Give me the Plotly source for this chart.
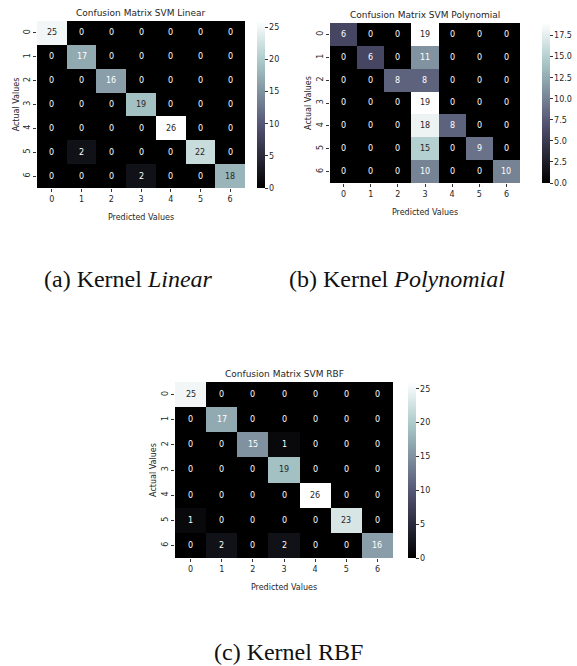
import plotly.graph_objects as go

labels = ["0", "1", "2", "3", "4", "5", "6"]

linear = [[25, 0, 0, 0, 0, 0, 0],
          [0, 17, 0, 0, 0, 0, 0],
          [0, 0, 16, 0, 0, 0, 0],
          [0, 0, 0, 19, 0, 0, 0],
          [0, 0, 0, 0, 26, 0, 0],
          [0, 2, 0, 0, 0, 22, 0],
          [0, 0, 0, 2, 0, 0, 18]]

poly = [[6, 0, 0, 19, 0, 0, 0],
        [0, 6, 0, 11, 0, 0, 0],
        [0, 0, 8, 8, 0, 0, 0],
        [0, 0, 0, 19, 0, 0, 0],
        [0, 0, 0, 18, 8, 0, 0],
        [0, 0, 0, 15, 0, 9, 0],
        [0, 0, 0, 10, 0, 0, 10]]

rbf = [[25, 0, 0, 0, 0, 0, 0],
       [0, 17, 0, 0, 0, 0, 0],
       [0, 0, 15, 1, 0, 0, 0],
       [0, 0, 0, 19, 0, 0, 0],
       [0, 0, 0, 0, 26, 0, 0],
       [1, 0, 0, 0, 0, 23, 0],
       [0, 2, 0, 2, 0, 0, 16]]

titles = ["Confusion Matrix SVM Linear", "Confusion Matrix SVM Polynomial", "Confusion Matrix SVM RBF"]
captions = ["(a) Kernel <i>Linear</i>", "(b) Kernel <i>Polynomial</i>", "(c) Kernel RBF"]

W, H = 577, 666

BONE_STOPS = [(0.0, (0, 0, 0)), (0.365079, (81, 81, 113)),
              (0.746032, (166, 198, 198)), (1.0, (255, 255, 255))]
bone = [[s, "rgb(%d,%d,%d)" % c] for s, c in BONE_STOPS]


def bone_rgb(t):
    for (s0, c0), (s1, c1) in zip(BONE_STOPS[:-1], BONE_STOPS[1:]):
        if t <= s1:
            f = (t - s0) / (s1 - s0) if s1 > s0 else 0
            return [c0[i] + f * (c1[i] - c0[i]) for i in range(3)]
    return list(BONE_STOPS[-1][1])


def lum(rgb):
    out = []
    for v in rgb:
        v = v / 255
        out.append(v / 12.92 if v <= 0.03928 else ((v + 0.055) / 1.055) ** 2.4)
    return 0.2126 * out[0] + 0.7152 * out[1] + 0.0722 * out[2]


panels = [
    dict(z=linear, box=(37, 245, 21, 188), cbx=257, dtick=5, fmt="d", ystand=1),
    dict(z=poly, box=(330, 520, 23, 183), cbx=542, dtick=2.5, fmt=".1f", ystand=2),
    dict(z=rbf, box=(175, 393, 382, 558), cbx=408, dtick=5, fmt="d", ystand=2),
]
caption_pos = [(128, 279), (397, 279), (288, 652)]

fig = go.Figure()
annotations = []
tickfont = dict(family="DejaVu Sans", size=8, color="#262626")

for i, p in enumerate(panels):
    n = "" if i == 0 else str(i + 1)
    L, R, T, B = p["box"]
    z = p["z"]
    zmax = max(max(r) for r in z)
    zmin = min(min(r) for r in z)
    fig.add_trace(go.Heatmap(
        z=z, x=labels, y=labels, xaxis="x" + n, yaxis="y" + n,
        colorscale=bone, zmin=zmin, zmax=zmax,
        colorbar=dict(
            x=p["cbx"] / W, xanchor="left", xpad=0, ypad=0,
            y=1 - T / H, yanchor="top", lenmode="pixels", len=B - T,
            thickness=8, thicknessmode="pixels", outlinewidth=0,
            ticks="outside", ticklen=3, tickwidth=1, tickcolor="#333",
            tick0=0, dtick=p["dtick"], tickformat=p["fmt"],
            tickfont=tickfont),
        hoverinfo="skip",
    ))
    for r, row in enumerate(z):
        for c, v in enumerate(row):
            t = (v - zmin) / (zmax - zmin)
            col = "#262626" if lum(bone_rgb(t)) > 0.408 else "#ffffff"
            annotations.append(dict(
                x=labels[c], y=labels[r], xref="x" + n, yref="y" + n,
                text=str(v), showarrow=False,
                font=dict(family="DejaVu Sans", size=8, color=col)))
    fig.layout["xaxis" + n] = dict(
        domain=[L / W, R / W], anchor="y" + n, type="category",
        showgrid=False, zeroline=False, showline=False, automargin=False,
        ticks="outside", ticklen=3, tickcolor="#333", tickfont=tickfont,
        title=dict(text="Predicted Values", standoff=11,
                   font=dict(family="DejaVu Sans", size=8, color="#262626")))
    fig.layout["yaxis" + n] = dict(
        domain=[1 - B / H, 1 - T / H], anchor="x" + n, type="category",
        autorange="reversed", showgrid=False, zeroline=False, showline=False,
        automargin=False,
        ticks="outside", ticklen=3, tickcolor="#333", tickfont=tickfont,
        tickangle=-90,
        title=dict(text="Actual Values", standoff=p["ystand"],
                   font=dict(family="DejaVu Sans", size=8, color="#262626")))
    annotations.append(dict(
        x=(L + R) / 2 / W, y=1 - (T - 8) / H, xref="paper", yref="paper",
        text=titles[i], showarrow=False, xanchor="center", yanchor="middle",
        font=dict(family="DejaVu Sans", size=9, color="#262626")))
    cx, cy = caption_pos[i]
    annotations.append(dict(
        x=cx / W, y=1 - cy / H, xref="paper", yref="paper",
        text=captions[i], showarrow=False, xanchor="center", yanchor="middle",
        font=dict(family="Liberation Serif", size=24, color="#111111")))

fig.update_layout(
    width=W, height=H, margin=dict(l=0, r=0, t=0, b=0, autoexpand=False),
    paper_bgcolor="white", plot_bgcolor="white",
    annotations=annotations, showlegend=False,
)

fig.write_html("out.html", config={"displayModeBar": False},
               post_script="document.body.style.margin='0';document.body.style.overflow='hidden';")
